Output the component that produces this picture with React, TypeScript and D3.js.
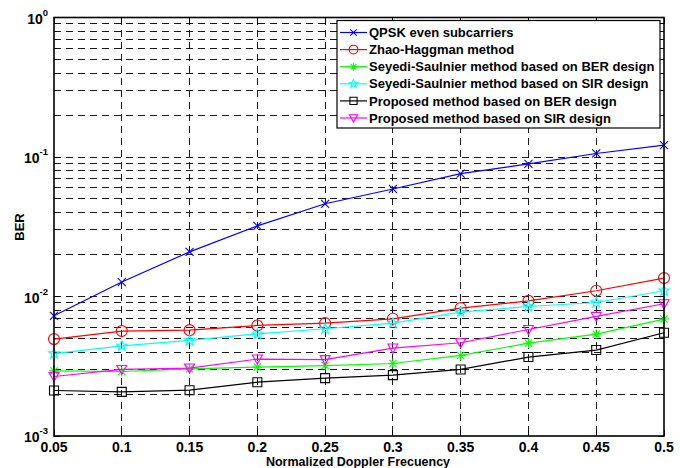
import React, { useEffect, useRef } from 'react';
import * as d3 from 'd3';

// Normalized Doppler frequency (x) and BER curves
const doppler = [0.05, 0.1, 0.15, 0.2, 0.25, 0.3, 0.35, 0.4, 0.45, 0.5];
const qpskEven = [0.00727, 0.0127, 0.0209, 0.0321, 0.0462, 0.059, 0.0759, 0.0893, 0.106, 0.1216];
const zhaoHaggman = [0.00495, 0.00565, 0.00574, 0.0062, 0.00644, 0.00692, 0.00826, 0.0093, 0.011, 0.01355];
const seyediBer = [0.00293, 0.0029, 0.00303, 0.00312, 0.0032, 0.00331, 0.00378, 0.00463, 0.00537, 0.00689];
const seyediSir = [0.0039, 0.00443, 0.00484, 0.0054, 0.00587, 0.00645, 0.00773, 0.00848, 0.00906, 0.011];
const proposedBer = [0.00212, 0.00207, 0.00213, 0.00243, 0.0026, 0.00273, 0.003, 0.00368, 0.00413, 0.0055];
const proposedSir = [0.00267, 0.003, 0.00307, 0.00356, 0.00353, 0.00427, 0.00466, 0.0058, 0.0072, 0.00887];

const seriesNames = [
  'QPSK even subcarriers',
  'Zhao-Haggman method',
  'Seyedi-Saulnier method based on BER design',
  'Seyedi-Saulnier method based on SIR design',
  'Proposed method based on BER design',
  'Proposed method based on SIR design',
];
const xTicks = [0.05, 0.1, 0.15, 0.2, 0.25, 0.3, 0.35, 0.4, 0.45, 0.5];
const yDecades = [-3, -2, -1, 0];

const series = [
  { name: seriesNames[0], values: qpskEven, color: '#0000ff', marker: 'x' },
  { name: seriesNames[1], values: zhaoHaggman, color: '#ff0000', marker: 'o' },
  { name: seriesNames[2], values: seyediBer, color: '#00ff00', marker: '*' },
  { name: seriesNames[3], values: seyediSir, color: '#00ffff', marker: 'p' },
  { name: seriesNames[4], values: proposedBer, color: '#000000', marker: 's' },
  { name: seriesNames[5], values: proposedSir, color: '#ff00ff', marker: 'v' },
];

function markerPath(m: string, s: number): string {
  const p = d3.path();
  if (m === 'x') {
    p.moveTo(-s, -s); p.lineTo(s, s); p.moveTo(-s, s); p.lineTo(s, -s);
  } else if (m === 'o') {
    p.arc(0, 0, s, 0, Math.PI * 2);
  } else if (m === '*') {
    p.moveTo(-s, 0); p.lineTo(s, 0); p.moveTo(0, -s); p.lineTo(0, s);
    const d = s * 0.72;
    p.moveTo(-d, -d); p.lineTo(d, d); p.moveTo(-d, d); p.lineTo(d, -d);
  } else if (m === 's') {
    p.rect(-s, -s, 2 * s, 2 * s);
  } else if (m === 'v') {
    p.moveTo(-s, -s * 0.8); p.lineTo(s, -s * 0.8); p.lineTo(0, s); p.closePath();
  } else if (m === 'p') {
    for (let i = 0; i < 10; i++) {
      const r = i % 2 === 0 ? s : s * 0.42;
      const a = -Math.PI / 2 + (i * Math.PI) / 5;
      if (i === 0) p.moveTo(r * Math.cos(a), r * Math.sin(a));
      else p.lineTo(r * Math.cos(a), r * Math.sin(a));
    }
    p.closePath();
  }
  return p.toString();
}

const markerSize: Record<string, number> = { x: 4, o: 5.5, '*': 5, p: 5.5, s: 4.5, v: 5 };

const App = () => {
  const ref = useRef<SVGSVGElement | null>(null);

  useEffect(() => {
    if (!ref.current) return;
    const svg = d3.select(ref.current);
    svg.selectAll('*').remove();

    const left = 54, right = 664, top = 17.5, bottom = 436;
    const font = 'Liberation Sans, Arial, Helvetica, sans-serif';

    const x = d3.scaleLinear().domain([0.05, 0.5]).range([left, right]);
    const y = d3.scaleLog().domain([1e-3, 1]).range([bottom, top]);

    svg.append('rect').attr('width', 680).attr('height', 468).attr('fill', '#fff');

    // grid
    const grid = svg.append('g').attr('stroke', '#1a1a1a').attr('stroke-width', 1)
      .attr('stroke-dasharray', '7,5').attr('shape-rendering', 'crispEdges');
    xTicks.slice(1, -1).forEach(t => {
      grid.append('line').attr('x1', x(t)).attr('x2', x(t)).attr('y1', top).attr('y2', bottom);
    });
    const minorVals: number[] = [];
    yDecades.slice(0, -1).forEach(e => {
      for (let k = 1; k <= 9; k++) minorVals.push(k * Math.pow(10, e));
    });
    minorVals.slice(1).forEach(v => {
      grid.append('line').attr('x1', left).attr('x2', right).attr('y1', y(v)).attr('y2', y(v));
    });

    // ticks (inside, all sides)
    const ticks = svg.append('g').attr('stroke', '#000').attr('stroke-width', 1).attr('shape-rendering', 'crispEdges');
    xTicks.forEach(t => {
      ticks.append('line').attr('x1', x(t)).attr('x2', x(t)).attr('y1', bottom).attr('y2', bottom - 6);
      ticks.append('line').attr('x1', x(t)).attr('x2', x(t)).attr('y1', top).attr('y2', top + 6);
    });
    minorVals.forEach(v => {
      const len = Math.abs(Math.log10(v) - Math.round(Math.log10(v))) < 1e-9 ? 6 : 3;
      ticks.append('line').attr('x1', left).attr('x2', left + len).attr('y1', y(v)).attr('y2', y(v));
      ticks.append('line').attr('x1', right).attr('x2', right - len).attr('y1', y(v)).attr('y2', y(v));
    });

    // series
    const line = d3.line<number>().x((_, i) => x(doppler[i])).y(d => y(d));
    series.forEach(s => {
      svg.append('path').attr('d', line(s.values) as string).attr('fill', 'none')
        .attr('stroke', s.color).attr('stroke-width', 1.2);
      s.values.forEach((v, i) => {
        svg.append('path').attr('d', markerPath(s.marker, markerSize[s.marker]))
          .attr('transform', `translate(${x(doppler[i])},${y(v)})`)
          .attr('fill', 'none').attr('stroke', s.color).attr('stroke-width', 1.1);
      });
    });

    // frame
    svg.append('rect').attr('x', left).attr('y', top).attr('width', right - left).attr('height', bottom - top)
      .attr('fill', 'none').attr('stroke', '#000').attr('stroke-width', 1.6);

    // x tick labels
    xTicks.forEach(t => {
      svg.append('text').attr('x', x(t)).attr('y', 452).attr('text-anchor', 'middle')
        .attr('font-family', font).attr('font-weight', 'bold').attr('font-size', 14).text(String(t));
    });
    svg.append('text').attr('x', 358).attr('y', 466).attr('text-anchor', 'middle')
      .attr('font-family', font).attr('font-weight', 'bold').attr('font-size', 12.5)
      .text('Normalized Doppler Frecuency');

    // y tick labels
    yDecades.forEach(e => {
      const t = svg.append('text').attr('x', 48).attr('y', y(Math.pow(10, e)) + 6).attr('text-anchor', 'end')
        .attr('font-family', font).attr('font-weight', 'bold').attr('font-size', 14);
      t.append('tspan').text('10');
      t.append('tspan').attr('font-size', 9.5).attr('dy', -8).text(String(e));
    });
    svg.append('text').attr('transform', 'translate(23.5,227) rotate(-90)').attr('text-anchor', 'middle')
      .attr('font-family', font).attr('font-weight', 'bold').attr('font-size', 13).text('BER');

    // legend
    const lg = svg.append('g');
    lg.append('rect').attr('x', 337).attr('y', 20.5).attr('width', 323).attr('height', 107.5)
      .attr('fill', '#fff').attr('stroke', '#000').attr('stroke-width', 1.2);
    series.forEach((s, i) => {
      const cy = 32.5 + i * 17.1;
      lg.append('line').attr('x1', 340).attr('x2', 367).attr('y1', cy).attr('y2', cy)
        .attr('stroke', s.color).attr('stroke-width', 1.2);
      lg.append('path').attr('d', markerPath(s.marker, markerSize[s.marker] * 0.8))
        .attr('transform', `translate(353.5,${cy})`).attr('fill', 'none')
        .attr('stroke', s.color).attr('stroke-width', 1.1);
      lg.append('text').attr('x', 369).attr('y', cy + 4.6).attr('font-family', font)
        .attr('font-weight', 'bold').attr('font-size', 13).text(s.name);
    });
  }, []);

  return (
    <svg ref={ref} width={680} height={468} style={{ position: 'absolute', left: 0, top: 0 }} />
  );
};

export default App;
